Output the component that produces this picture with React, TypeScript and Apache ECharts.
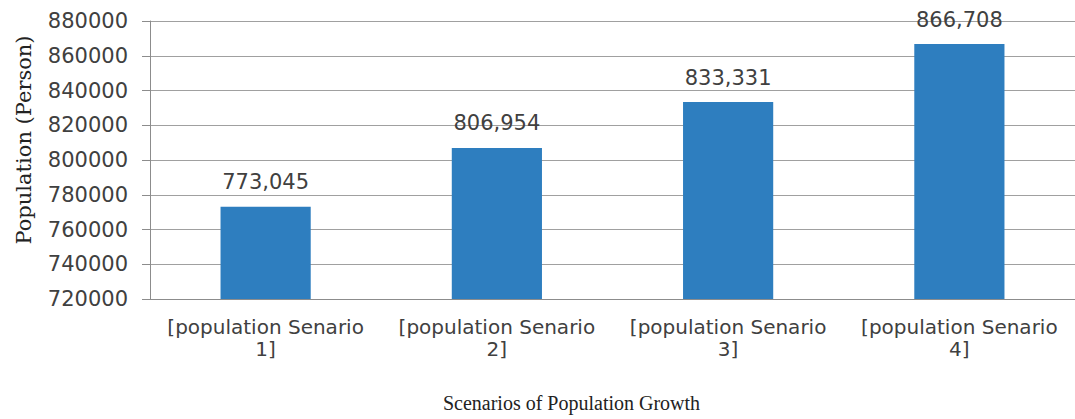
import React, { useEffect, useRef } from "react";
import * as echarts from "echarts";

const categories = [
  "[population Senario\n1]",
  "[population Senario\n2]",
  "[population Senario\n3]",
  "[population Senario\n4]",
];
const populationValues = [773045, 806954, 833331, 866708];
const yMin = 720000;
const yMax = 880000;
const yInterval = 20000;

export default function App() {
  const ref = useRef<HTMLDivElement>(null);
  useEffect(() => {
    if (!ref.current) return;
    const chart = echarts.init(ref.current, undefined, { renderer: "svg" });
    const labelFont = "'DejaVu Sans', sans-serif";
    chart.setOption({
      animation: false,
      backgroundColor: "#ffffff",
      grid: { left: 150, right: 0, top: 21, bottom: 120, containLabel: false },
      xAxis: {
        type: "category",
        data: categories,
        name: "Scenarios of Population Growth",
        nameLocation: "middle",
        nameGap: 94,
        nameTextStyle: {
          fontFamily: "'Liberation Serif', serif",
          fontSize: 20,
          color: "#222",
          padding: [0, 82, 0, 0],
        },
        axisLine: { show: true, lineStyle: { color: "#8c8c8c", width: 1 } },
        axisTick: { show: false },
        axisLabel: {
          interval: 0,
          margin: 17,
          fontFamily: labelFont,
          fontSize: 20,
          lineHeight: 22,
          color: "#404040",
        },
      },
      yAxis: {
        type: "value",
        min: yMin,
        max: yMax,
        interval: yInterval,
        name: "Population (Person)",
        nameLocation: "middle",
        nameGap: 116,
        nameRotate: 90,
        nameTextStyle: {
          fontFamily: "'DejaVu Serif', serif",
          fontSize: 21,
          color: "#222",
          padding: [0, 0, 0, 40],
        },
        axisLine: { show: true, lineStyle: { color: "#8c8c8c", width: 1 } },
        axisTick: { show: true, inside: false, length: 8, lineStyle: { color: "#8c8c8c" } },
        splitLine: { show: true, lineStyle: { color: "#a0a0a0", width: 1 } },
        axisLabel: {
          margin: 22,
          fontFamily: labelFont,
          fontSize: 21,
          color: "#404040",
          formatter: (v: number) => String(v),
        },
      },
      series: [
        {
          type: "bar",
          data: populationValues,
          barWidth: "39%",
          itemStyle: { color: "#2e7ebf" },
          label: {
            show: true,
            position: "top",
            distance: 14,
            fontFamily: labelFont,
            fontSize: 21,
            color: "#404040",
            formatter: (p: any) => Number(p.value).toLocaleString("en-US"),
          },
        },
      ],
    });
    return () => chart.dispose();
  }, []);
  return <div ref={ref} style={{ width: 1075, height: 419, position: "absolute", left: 0, top: 0 }} />;
}
